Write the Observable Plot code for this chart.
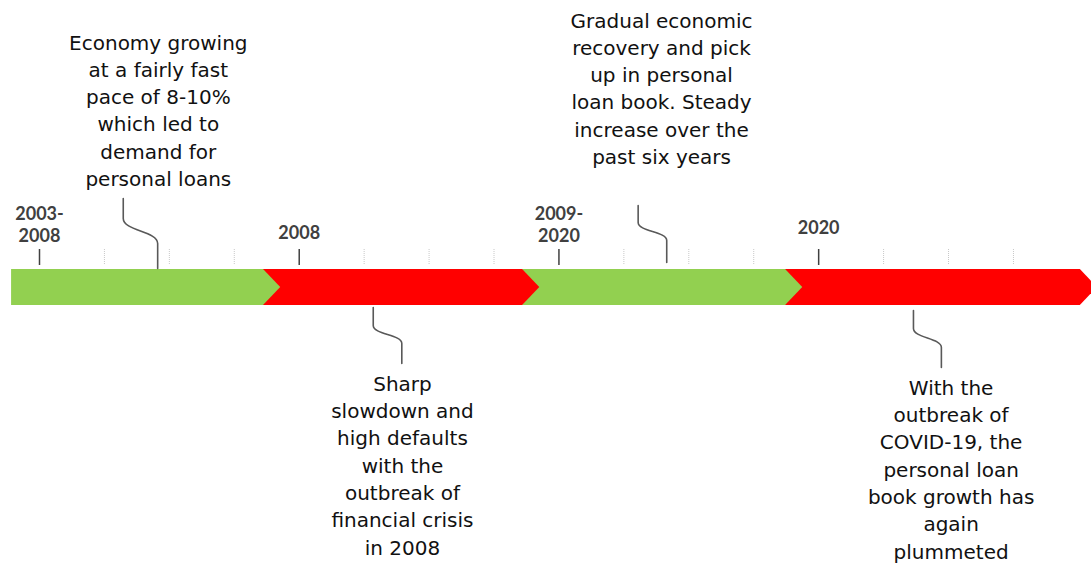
<!DOCTYPE html>
<html><head><meta charset="utf-8">
<script src="https://cdn.jsdelivr.net/npm/d3@7"></script>
<script src="https://cdn.jsdelivr.net/npm/@observablehq/plot@0.6"></script>
<style>body{margin:0;background:#fff;} svg{display:block;}</style>
</head><body><div id="chart"></div>
<script>
// ---- data (x positions in timeline tick units) ----
const phaseNames  = ["2003-2008 growth", "2008 crisis", "2009-2020 recovery", "2020 COVID-19"];
const phaseStart  = [-0.43, 3.45, 7.44, 11.49];
const phaseEnd    = [3.45, 7.44, 11.49, 16.03];
const phaseColor  = ["#92D050", "#FF0000", "#92D050", "#FF0000"];

const tickIndex       = [0,1,2,3,4,5,6,7,8,9,10,11,12,13,14,15];
const majorTickIndex  = [0, 4, 8, 12];
const majorTickLabels = ["2003-\n2008", "2008", "2009-\n2020", "2020"];

const eventTexts = [
  "Economy growing\nat a fairly fast\npace of 8-10%\nwhich led to\ndemand for\npersonal loans",
  "Gradual economic\nrecovery and pick\nup in personal\nloan book. Steady\nincrease over the\npast six years",
  "Sharp\nslowdown and\nhigh defaults\nwith the\noutbreak of\nfinancial crisis\nin 2008",
  "With the\noutbreak of\nCOVID-19, the\npersonal loan\nbook growth has\nagain\nplummeted"
];
const eventLeadX   = [1.29, 9.22, 5.14, 13.46];   // free end of connector
const eventAnchorX = [1.82, 9.66, 5.58, 13.89];   // end touching the bar
const eventTextX   = [1.83, 9.58, 5.59, 14.04];

// ---- layout (pixels, styling only) ----
const L = {
  barTop: 269, barBot: 305, tip: 0.265,
  tickTop: 249, tickBot: 265,
  labelY: [223.5, 231.5, 223, 226.5],
  conn: [[198, 218, 243, 268], [205, 222, 240, 262], [307, 325, 343, 363], [310, 328, 347, 367]],
  textY: [108.5, 86.5, 463.5, 467.5]
};
const barMid = (L.barTop + L.barBot) / 2;

const phases = phaseNames.map((name, i) => ({name, start: phaseStart[i], end: phaseEnd[i], color: phaseColor[i]}));
const phaseMarks = phases.slice().reverse().map(p => Plot.area([
  {x: p.start, y1: L.barTop, y2: L.barBot},
  {x: p.end, y1: L.barTop, y2: L.barBot},
  {x: p.end + L.tip, y1: barMid, y2: barMid}
], {x1: "x", y1: "y1", y2: "y2", fill: p.color, curve: "linear"}));

const minorTicks = tickIndex.filter(t => !majorTickIndex.includes(t));
const majors = majorTickIndex.map((t, i) => ({x: t, label: majorTickLabels[i], y: L.labelY[i]}));

const connPts = [];
eventTexts.forEach((t, i) => {
  const c = L.conn[i];
  connPts.push(
    {e: i, x: eventLeadX[i], y: c[0]}, {e: i, x: eventLeadX[i], y: c[1]},
    {e: i, x: eventAnchorX[i], y: c[2]}, {e: i, x: eventAnchorX[i], y: c[3]}
  );
});
const events = eventTexts.map((text, i) => ({text, x: eventTextX[i], y: L.textY[i]}));

const chart = Plot.plot({
  width: 1091, height: 564, margin: 0,
  style: {fontFamily: "DejaVu Sans", background: "#fff"},
  x: {domain: [-0.6006, 16.202], axis: null},
  y: {domain: [0, 564], range: [0, 564], axis: null},
  marks: [
    ...phaseMarks,
    Plot.ruleX(minorTicks, {x: d => d, y1: L.tickTop, y2: L.tickBot, stroke: "#c8c8c8", strokeWidth: 1, strokeDasharray: "1,1"}),
    Plot.ruleX(majorTickIndex, {x: d => d, y1: L.tickTop, y2: L.tickBot, stroke: "#404040", strokeWidth: 1.5}),
    Plot.text(majors, {x: "x", y: "y", text: "label", lineAnchor: "middle", fontFamily: "Lato", fontWeight: "bold", fontSize: 18, lineHeight: 1.22, fill: "#404040"}),
    Plot.line(connPts, {x: "x", y: "y", z: "e", curve: "bump-y", stroke: "#595959", strokeWidth: 1.6}),
    Plot.text(events, {x: "x", y: "y", text: "text", lineAnchor: "middle", fontSize: 20, lineHeight: 1.365, fill: "#111"})
  ]
});
document.getElementById("chart").appendChild(chart);
</script>
</body></html>
